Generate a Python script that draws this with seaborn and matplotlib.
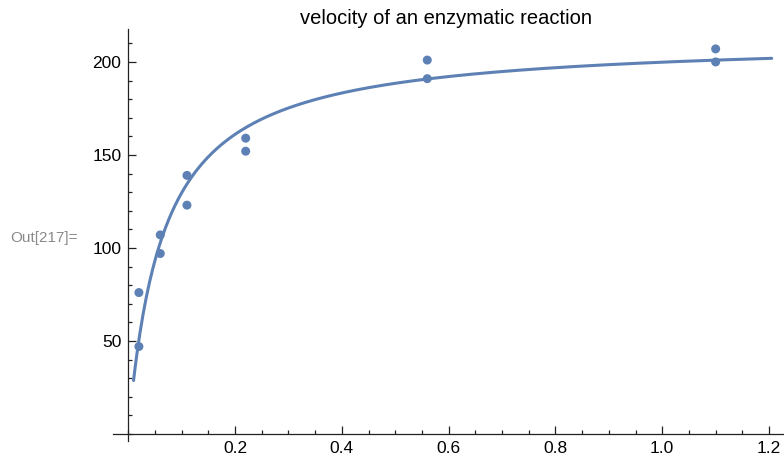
import numpy as np
import pandas as pd
import matplotlib
matplotlib.use("Agg")
import matplotlib.pyplot as plt
import seaborn as sns
from matplotlib.ticker import MultipleLocator

# data (substrate concentration, reaction velocity)
concentration = [0.02, 0.02, 0.06, 0.06, 0.11, 0.11, 0.22, 0.22, 0.56, 0.56, 1.10, 1.10]
velocity = [76, 47, 97, 107, 123, 139, 159, 152, 191, 201, 207, 200]
# fitted Michaelis-Menten parameters
vmax = 212.68
km = 0.06412
x_fit = np.linspace(0.01, 1.205, 400)
y_fit = vmax * x_fit / (km + x_fit)

title = "velocity of an enzymatic reaction"
xticks = [0.2, 0.4, 0.6, 0.8, 1.0, 1.2]
xtick_labels = ["0.2", "0.4", "0.6", "0.8", "1.0", "1.2"]
yticks = [50, 100, 150, 200]

sns.set_style("white")
plt.rcParams["font.family"] = ["Liberation Sans", "DejaVu Sans"]

color = "#5e81b5"
fig = plt.figure(figsize=(7.84, 4.66), dpi=100)
ax = fig.add_axes([113 / 784, 25 / 466, (784 - 113) / 784, (441 - 29) / 466])

pts = pd.DataFrame({"x": concentration, "y": velocity})
fit = pd.DataFrame({"x": x_fit, "y": y_fit})
sns.lineplot(data=fit, x="x", y="y", ax=ax, color=color, linewidth=2.2, zorder=2)
sns.scatterplot(data=pts, x="x", y="y", ax=ax, color=color, s=42, edgecolor="none", zorder=3)

ax.set_xlim(-0.0285, 1.228)
ax.set_ylim(-3.8, 217.7)
ax.set_xlabel("")
ax.set_ylabel("")
ax.spines["left"].set_position(("data", 0))
ax.spines["bottom"].set_position(("data", 0))
ax.spines["top"].set_visible(False)
ax.spines["right"].set_visible(False)
for s in ["left", "bottom"]:
    ax.spines[s].set_color("#222222")
    ax.spines[s].set_linewidth(0.9)

ax.set_xticks(xticks)
ax.set_xticklabels(xtick_labels)
ax.set_yticks(yticks)
ax.xaxis.set_minor_locator(MultipleLocator(0.05))
ax.yaxis.set_minor_locator(MultipleLocator(10))
ax.tick_params(which="both", direction="in", color="#222222", width=0.9,
               bottom=True, left=True, labelsize=12.5, labelcolor="black")
ax.tick_params(which="major", length=5.5)
ax.tick_params(which="minor", length=3)
ax.tick_params(axis="x", pad=5)
ax.tick_params(axis="y", pad=5)

fig.text(446 / 784, 1 - 18 / 466, title, ha="center", va="center", fontsize=14.5, color="black")
fig.text(10 / 784, 1 - 238 / 466, "Out[217]=", ha="left", va="center", fontsize=11, color="#8a8a8a")

fig.savefig("out.png", dpi=100)
